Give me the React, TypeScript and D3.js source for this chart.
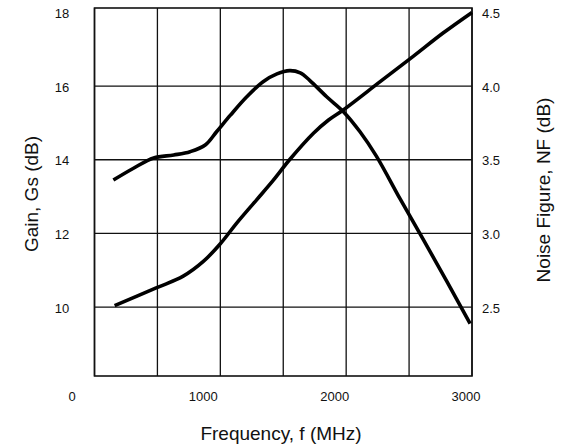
import React from "react";
import * as d3 from "d3";

const gainFreq = [150, 310, 470, 630, 760, 880, 970, 1080, 1210, 1340, 1450, 1550, 1635, 1712, 1845, 1980, 2110, 2240, 2430, 2610, 2800, 2985];
const gainValues = [13.45, 13.77, 14.05, 14.13, 14.22, 14.4, 14.76, 15.21, 15.71, 16.12, 16.33, 16.42, 16.36, 16.15, 15.71, 15.3, 14.76, 14.1, 12.93, 11.85, 10.7, 9.55];
const nfFreq = [160, 490, 705, 865, 1000, 1130, 1290, 1420, 1550, 1740, 1860, 1980, 2270, 2530, 2770, 3000];
const nfValues = [2.51, 2.63, 2.71, 2.81, 2.93, 3.07, 3.23, 3.36, 3.5, 3.68, 3.77, 3.84, 4.03, 4.2, 4.36, 4.5];

const gridFreqs = [0, 500, 1000, 1500, 2000, 2500, 3000];
const xTickLabels = [0, 1000, 2000, 3000];
const gainTicks = [10, 12, 14, 16, 18];
const gainGrid = [10, 12, 14, 16];
const nfTicks = [2.5, 3.0, 3.5, 4.0, 4.5];

const W = 564;
const H = 448;
const L = 94.5, R = 472, T = 8, B = 376;

export default function App() {
  const x = d3.scaleLinear().domain([0, 3000]).range([L, R]);
  const xLab = d3.scaleLinear().domain([0, 3000]).range([72, 466]);
  const yG = d3.scaleLinear().domain([8.13, 18.12]).range([B, T]);
  const yNF = d3.scaleLinear().domain([2.0325, 4.53]).range([B, T]);

  const gainLine = d3
    .line<number>()
    .x((_, i) => x(gainFreq[i]))
    .y((d) => yG(d))
    .curve(d3.curveCatmullRom.alpha(0.5));
  const nfLine = d3
    .line<number>()
    .x((_, i) => x(nfFreq[i]))
    .y((d) => yNF(d))
    .curve(d3.curveCatmullRom.alpha(0.5));

  const font = "'Liberation Sans', Arial, Helvetica, sans-serif";

  return (
    <svg
      width={W}
      height={H}
      style={{ position: "absolute", left: 0, top: 0, background: "#fff" }}
      fontFamily={font}
    >
      <rect x={0} y={0} width={W} height={H} fill="#fff" />
      {gridFreqs.map((f) => (
        <line key={"v" + f} x1={x(f)} x2={x(f)} y1={T} y2={B} stroke="#111" strokeWidth={1.3} />
      ))}
      {gainGrid.map((g) => (
        <line key={"h" + g} x1={L} x2={R} y1={yG(g)} y2={yG(g)} stroke="#111" strokeWidth={1.3} />
      ))}
      <rect x={L} y={T} width={R - L} height={B - T} fill="none" stroke="#111" strokeWidth={1.6} />

      <path d={gainLine(gainValues) || ""} fill="none" stroke="#000" strokeWidth={3.6} strokeLinecap="butt" strokeLinejoin="round" />
      <path d={nfLine(nfValues) || ""} fill="none" stroke="#000" strokeWidth={3.6} strokeLinecap="butt" strokeLinejoin="round" />

      {gainTicks.map((g) => (
        <text key={"gl" + g} x={62} y={yG(g) + 2} fontSize={13} textAnchor="middle" dominantBaseline="middle" fill="#111">
          {g}
        </text>
      ))}
      {nfTicks.map((n) => (
        <text key={"nl" + n} x={482} y={yNF(n) + 2} fontSize={13} textAnchor="start" dominantBaseline="middle" fill="#111">
          {n.toFixed(1)}
        </text>
      ))}
      {xTickLabels.map((f) => (
        <text key={"xl" + f} x={xLab(f)} y={401} fontSize={13} textAnchor="middle" fill="#111">
          {f}
        </text>
      ))}

      <text x={281} y={440} fontSize={19} textAnchor="middle" fill="#111">
        Frequency, f (MHz)
      </text>
      <text transform={`translate(38,194) rotate(-90)`} fontSize={19} textAnchor="middle" fill="#111">
        Gain, Gs (dB)
      </text>
      <text transform={`translate(550,190) rotate(-90)`} fontSize={19} textAnchor="middle" fill="#111">
        Noise Figure, NF (dB)
      </text>
    </svg>
  );
}
